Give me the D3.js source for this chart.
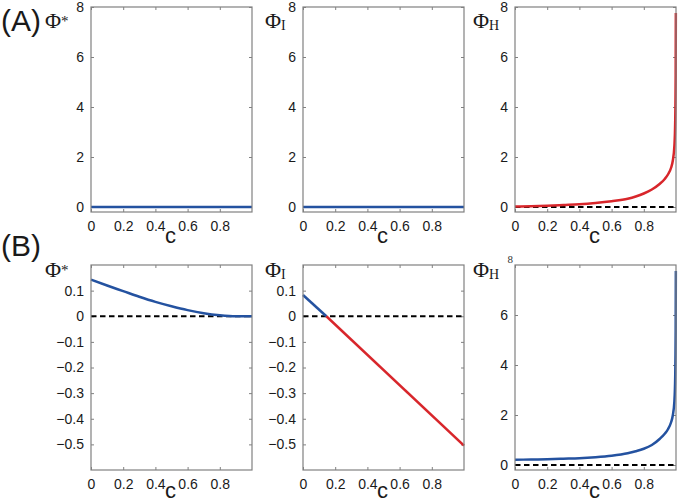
<!DOCTYPE html>
<html>
<head>
<meta charset="utf-8">
<script src="https://cdn.jsdelivr.net/npm/d3@7"></script>
<style>
  body { margin: 0; background: #fff; }
  svg { display: block; }
</style>
</head>
<body>
<div id="chart"></div>
<script>
// tick values
const cTicks = [0, 0.2, 0.4, 0.6, 0.8];
const bigTicks = [0, 2, 4, 6, 8];
const smallTicks = [-0.5, -0.4, -0.3, -0.2, -0.1, 0, 0.1];

// (A) row
const cFlat = [0, 1];
const phiStarA = [0, 0];
const phiIA = [0, 0];
const cSteep = [0, 0.1, 0.2, 0.3, 0.4, 0.5, 0.6, 0.7, 0.75, 0.8, 0.85, 0.9, 0.93, 0.95, 0.97, 0.98, 0.99, 0.995, 0.998, 0.999];
const phiHA = [0.02, 0.03, 0.05, 0.08, 0.11, 0.16, 0.23, 0.33, 0.42, 0.54, 0.7, 0.93, 1.12, 1.3, 1.58, 1.85, 2.45, 3.4, 5.3, 7.76];

// (B) row
const cStar = [0, 0.1, 0.2, 0.3, 0.4, 0.5, 0.6, 0.7, 0.8, 0.9, 1];
const phiStarB = [0.143, 0.12, 0.098, 0.076, 0.056, 0.039, 0.024, 0.012, 0.004, 0, 0];
const cIPos = [0, 0.145];
const phiIPos = [0.083, 0];
const cINeg = [0.145, 1];
const phiINeg = [0, -0.505];
const phiHB = [0.21, 0.22, 0.23, 0.25, 0.27, 0.31, 0.37, 0.47, 0.55, 0.65, 0.8, 1.05, 1.25, 1.43, 1.72, 1.98, 2.55, 3.5, 5.4, 7.76];

const BLUE = "#2452a0";
const RED = "#d8262b";
const SANS = "'Liberation Sans', Arial, sans-serif";
const SERIF = "'Liberation Serif', 'Times New Roman', serif";

const W = 679, H = 504;
const colX = [91, 303, 515];
const rowY = [7, 265];
const pw = 161, ph = 205;

const svg = d3.select("#chart").append("svg")
  .attr("width", W).attr("height", H)
  .style("font-family", SANS);

const panels = [
  { col: 0, row: 0, dom: [-0.2, 8], ticks: bigTicks, dashed: false, sym: "*", series: [{ c: cFlat, v: phiStarA, color: BLUE }] },
  { col: 1, row: 0, dom: [-0.2, 8], ticks: bigTicks, dashed: false, sym: "I", series: [{ c: cFlat, v: phiIA, color: BLUE }] },
  { col: 2, row: 0, dom: [-0.2, 8], ticks: bigTicks, dashed: true, sym: "H", series: [{ c: cSteep, v: phiHA, color: RED }] },
  { col: 0, row: 1, dom: [-0.6, 0.2], ticks: smallTicks, dashed: true, sym: "*", series: [{ c: cStar, v: phiStarB, color: BLUE }] },
  { col: 1, row: 1, dom: [-0.6, 0.2], ticks: smallTicks, dashed: true, sym: "I", series: [{ c: cIPos, v: phiIPos, color: BLUE }, { c: cINeg, v: phiINeg, color: RED }] },
  { col: 2, row: 1, dom: [-0.2, 8], ticks: bigTicks.slice(0, 4), dashed: true, sym: "H", serif8: true, series: [{ c: cSteep, v: phiHB, color: BLUE }] }
];

const fmt = d => String(d).replace("-", "\u2212");

panels.forEach(p => {
  const x0 = colX[p.col], y0 = rowY[p.row];
  const g = svg.append("g").attr("transform", `translate(${x0},${y0})`);
  const x = d3.scaleLinear().domain([0, 1]).range([0, pw]);
  const y = d3.scaleLinear().domain(p.dom).range([ph, 0]);

  // axes, ticks pointing inwards on all four sides
  const ax = g.append("g").attr("transform", `translate(0,${ph})`)
    .call(d3.axisBottom(x).tickValues(cTicks).tickSizeInner(-3).tickSizeOuter(0).tickPadding(9).tickFormat(fmt));
  const ay = g.append("g")
    .call(d3.axisLeft(y).tickValues(p.ticks).tickSizeInner(-3).tickSizeOuter(0).tickPadding(7).tickFormat(fmt));
  const at = g.append("g")
    .call(d3.axisTop(x).tickValues(cTicks).tickSizeInner(-3).tickSizeOuter(0).tickFormat(""));
  const ar = g.append("g").attr("transform", `translate(${pw},0)`)
    .call(d3.axisRight(y).tickValues(p.ticks).tickSizeInner(-3).tickSizeOuter(0).tickFormat(""));
  [ax, ay, at, ar].forEach(a => {
    a.select(".domain").remove();
    a.selectAll(".tick line").attr("stroke", "#808080");
    a.selectAll(".tick text").attr("fill", "#1a1a1a")
      .style("font-family", SANS).style("font-size", "14px");
  });
  if (p.serif8) {
    g.append("text").attr("x", -2).attr("y", -2).attr("text-anchor", "end")
      .style("font-family", SERIF).style("font-size", "11px").attr("fill", "#333").text("8");
  }

  // zero reference
  if (p.dashed) {
    g.append("line")
      .attr("x1", x(0)).attr("x2", x(1)).attr("y1", y(0)).attr("y2", y(0))
      .attr("stroke", "#000").attr("stroke-width", 2).attr("stroke-dasharray", "5.5,3.5");
  }

  const line = d3.line().x(d => x(d[0])).y(d => y(d[1])).curve(d3.curveMonotoneX);
  p.series.forEach(s => {
    g.append("path")
      .datum(s.c.map((c, i) => [c, s.v[i]]))
      .attr("d", line)
      .attr("fill", "none")
      .attr("stroke", s.color)
      .attr("stroke-width", 2.5);
  });

  // frame
  g.append("rect").attr("width", pw).attr("height", ph)
    .attr("fill", "none").attr("stroke", "#808080").attr("stroke-width", 1.2);

  // x label
  g.append("text").attr("x", pw / 2 - 1).attr("y", ph + (p.row === 0 ? 31 : 28))
    .attr("text-anchor", "middle").style("font-size", "22px").attr("fill", "#1a1a1a").text("c");

  // y label (Phi)
  const lx = [45, 265, 473][p.col];
  const ly = p.row === 0 ? 28 - y0 : 277 - y0;
  const t = g.append("text").attr("x", lx - x0).attr("y", ly)
    .style("font-family", SERIF).style("font-size", "22px").attr("fill", "#1a1a1a").text("\u03A6");
  if (p.sym === "*") {
    t.append("tspan").attr("dy", -2).style("font-size", "15px").text("*");
  } else {
    t.append("tspan").attr("dy", 2).style("font-size", "14px").text(p.sym);
  }
});

// panel letters
svg.append("text").attr("x", 1).attr("y", 31).style("font-size", "30px").attr("fill", "#1a1a1a").text("(A)");
svg.append("text").attr("x", 1).attr("y", 256).style("font-size", "30px").attr("fill", "#1a1a1a").text("(B)");
</script>
</body>
</html>
